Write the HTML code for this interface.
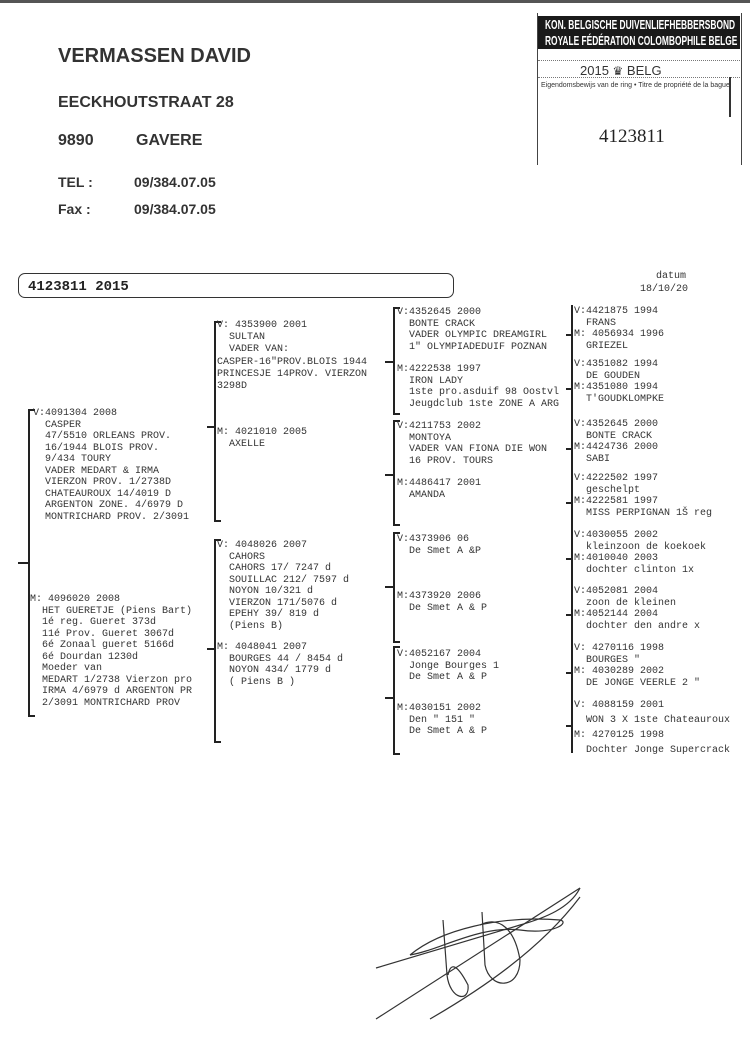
<!DOCTYPE html>
<html><head><meta charset="utf-8"><style>
html,body{margin:0;padding:0;background:#fff;}
body{width:750px;height:1060px;position:relative;overflow:hidden;font-family:"Liberation Mono",monospace;color:#222;}
.h{position:absolute;font-family:"Liberation Sans",sans-serif;font-weight:bold;color:#333;white-space:nowrap;}
.t{position:absolute;font-size:10px;line-height:11.5px;white-space:pre;color:#333;}
.b{position:absolute;border-left:2px solid #222;border-top:2px solid #222;border-bottom:2px solid #222;width:5px;}
.k{position:absolute;height:2px;background:#222;width:8px;}
.band{position:absolute;left:7px;width:290px;white-space:nowrap;text-align:center;transform:scaleX(0.645);transform-origin:0 0;}
</style></head><body>
<div style="position:absolute;left:0;top:0;width:750px;height:3px;background:#555"></div>
<div class="h" style="left:58px;top:45px;font-size:20px">VERMASSEN DAVID</div>
<div class="h" style="left:58px;top:94px;font-size:16px">EECKHOUTSTRAAT 28</div>
<div class="h" style="left:58px;top:132px;font-size:16px">9890</div>
<div class="h" style="left:136px;top:132px;font-size:16px">GAVERE</div>
<div class="h" style="left:58px;top:174px;font-size:14px">TEL :</div>
<div class="h" style="left:134px;top:174px;font-size:14px">09/384.07.05</div>
<div class="h" style="left:58px;top:201px;font-size:14px">Fax :</div>
<div class="h" style="left:134px;top:201px;font-size:14px">09/384.07.05</div>

<div style="position:absolute;left:537px;top:13px;width:203px;height:152px;border-left:1px solid #444;border-right:1px solid #444;"></div>
<div style="position:absolute;left:538px;top:16px;width:202px;height:33px;background:#1a1a1a;color:#fff;font-family:'Liberation Sans',sans-serif;font-weight:bold;font-size:13px;line-height:16px;overflow:hidden">
<div class="band" style="top:1px">KON. BELGISCHE DUIVENLIEFHEBBERSBOND</div>
<div class="band" style="top:17px">ROYALE FÉDÉRATION COLOMBOPHILE BELGE</div>
</div>
<div style="position:absolute;left:538px;top:60px;width:202px;border-top:1px dotted #777"></div>
<div style="position:absolute;left:538px;top:77px;width:202px;border-top:1px dotted #777"></div>
<div style="position:absolute;left:580px;top:63px;font-family:'Liberation Sans',sans-serif;font-size:13px;color:#333">2015 <span style="font-size:12px">♛</span> BELG</div>
<div style="position:absolute;left:541px;top:82px;font-family:'Liberation Sans',sans-serif;font-size:7px;color:#333;white-space:nowrap">Eigendomsbewijs van de ring • Titre de propriété de la bague</div>
<div style="position:absolute;left:729px;top:77px;width:2px;height:40px;background:#333"></div>
<div style="position:absolute;left:599px;top:126px;font-family:'Liberation Serif',serif;font-size:19px;color:#222">4123811</div>

<div style="position:absolute;left:18px;top:273px;width:434px;height:23px;border:1.5px solid #333;border-radius:7px"></div>
<div style="position:absolute;left:28px;top:279px;font-weight:bold;font-size:14px">4123811 2015</div>
<div class="t" style="left:650px;top:271px;text-align:center;width:42px">datum</div>
<div class="t" style="left:640px;top:284px">18/10/20</div>

<!-- gen1 -->
<div class="k" style="left:18px;top:562px;width:10px"></div>
<div class="b" style="left:28px;top:409px;height:304px"></div>
<div class="t" style="left:33px;top:408px">V:4091304 2008
  CASPER
  47/5510 ORLEANS PROV.
  16/1944 BLOIS PROV.
  9/434 TOURY
  VADER MEDART &amp; IRMA
  VIERZON PROV. 1/2738D
  CHATEAUROUX 14/4019 D
  ARGENTON ZONE. 4/6979 D
  MONTRICHARD PROV. 2/3091</div>
<div class="t" style="left:30px;top:594px">M: 4096020 2008
  HET GUERETJE (Piens Bart)
  1é reg. Gueret 373d
  11é Prov. Gueret 3067d
  6é Zonaal gueret 5166d
  6é Dourdan 1230d
  Moeder van
  MEDART 1/2738 Vierzon pro
  IRMA 4/6979 d ARGENTON PR
  2/3091 MONTRICHARD PROV</div>

<!-- gen2 -->
<div class="k" style="left:207px;top:426px"></div>
<div class="b" style="left:214px;top:321px;height:197px"></div>
<div class="t" style="left:217px;top:320px;line-height:12.2px">V: 4353900 2001
  SULTAN
  VADER VAN:
CASPER-16"PROV.BLOIS 1944
PRINCESJE 14PROV. VIERZON
3298D</div>
<div class="t" style="left:217px;top:427px">M: 4021010 2005
  AXELLE</div>
<div class="k" style="left:207px;top:648px"></div>
<div class="b" style="left:214px;top:539px;height:200px"></div>
<div class="t" style="left:217px;top:540px">V: 4048026 2007
  CAHORS
  CAHORS 17/ 7247 d
  SOUILLAC 212/ 7597 d
  NOYON 10/321 d
  VIERZON 171/5076 d
  EPEHY 39/ 819 d
  (Piens B)</div>
<div class="t" style="left:217px;top:642px">M: 4048041 2007
  BOURGES 44 / 8454 d
  NOYON 434/ 1779 d
  ( Piens B )</div>

<!-- gen3 -->
<div class="k" style="left:385px;top:361px"></div>
<div class="b" style="left:393px;top:307px;height:104px"></div>
<div class="t" style="left:397px;top:307px">V:4352645 2000
  BONTE CRACK
  VADER OLYMPIC DREAMGIRL
  1" OLYMPIADEDUIF POZNAN</div>
<div class="t" style="left:397px;top:364px">M:4222538 1997
  IRON LADY
  1ste pro.asduif 98 Oostvl
  Jeugdclub 1ste ZONE A ARG</div>
<div class="k" style="left:385px;top:474px"></div>
<div class="b" style="left:393px;top:420px;height:102px"></div>
<div class="t" style="left:397px;top:421px">V:4211753 2002
  MONTOYA
  VADER VAN FIONA DIE WON
  16 PROV. TOURS</div>
<div class="t" style="left:397px;top:478px">M:4486417 2001
  AMANDA</div>
<div class="k" style="left:385px;top:586px"></div>
<div class="b" style="left:393px;top:532px;height:107px"></div>
<div class="t" style="left:397px;top:534px">V:4373906 06
  De Smet A &amp;P</div>
<div class="t" style="left:397px;top:591px">M:4373920 2006
  De Smet A &amp; P</div>
<div class="k" style="left:385px;top:697px"></div>
<div class="b" style="left:393px;top:646px;height:105px"></div>
<div class="t" style="left:397px;top:649px">V:4052167 2004
  Jonge Bourges 1
  De Smet A &amp; P</div>
<div class="t" style="left:397px;top:703px">M:4030151 2002
  Den " 151 "
  De Smet A &amp; P</div>

<!-- gen4 -->
<div style="position:absolute;left:571px;top:305px;width:2px;height:448px;background:#222"></div>
<div class="k" style="left:566px;top:334px;width:6px"></div>
<div class="k" style="left:566px;top:388px;width:6px"></div>
<div class="k" style="left:566px;top:448px;width:6px"></div>
<div class="k" style="left:566px;top:502px;width:6px"></div>
<div class="k" style="left:566px;top:558px;width:6px"></div>
<div class="k" style="left:566px;top:614px;width:6px"></div>
<div class="k" style="left:566px;top:672px;width:6px"></div>
<div class="k" style="left:566px;top:725px;width:6px"></div>
<div class="t" style="left:574px;top:306px">V:4421875 1994
  FRANS
M: 4056934 1996
  GRIEZEL</div>
<div class="t" style="left:574px;top:359px">V:4351082 1994
  DE GOUDEN
M:4351080 1994
  T'GOUDKLOMPKE</div>
<div class="t" style="left:574px;top:419px">V:4352645 2000
  BONTE CRACK
M:4424736 2000
  SABI</div>
<div class="t" style="left:574px;top:473px">V:4222502 1997
  geschelpt
M:4222581 1997
  MISS PERPIGNAN 1Š reg</div>
<div class="t" style="left:574px;top:530px">V:4030055 2002
  kleinzoon de koekoek
M:4010040 2003
  dochter clinton 1x</div>
<div class="t" style="left:574px;top:586px">V:4052081 2004
  zoon de kleinen
M:4052144 2004
  dochter den andre x</div>
<div class="t" style="left:574px;top:643px">V: 4270116 1998
  BOURGES "
M: 4030289 2002
  DE JONGE VEERLE 2 "</div>
<div class="t" style="left:574px;top:698px;line-height:15px">V: 4088159 2001
  WON 3 X 1ste Chateauroux
M: 4270125 1998
  Dochter Jonge Supercrack</div>

<svg style="position:absolute;left:0;top:0" width="750" height="1060" fill="none" stroke="#333" stroke-width="1.2">
<path d="M376 1019 L580 888"/>
<path d="M430 1019 C480 990 540 950 580 897"/>
<path d="M376 968 C420 955 470 940 520 925 C545 918 570 908 580 888"/>
<path d="M410 955 C440 930 500 915 560 920 C570 922 555 935 520 930 C480 925 440 950 410 955"/>
<path d="M443 920 L447 975 C450 1000 470 1003 468 985 C455 960 450 965 448 975"/>
<path d="M482 912 L485 965 C490 990 520 990 520 960 C515 930 500 915 480 925"/>
</svg>
</body></html>
